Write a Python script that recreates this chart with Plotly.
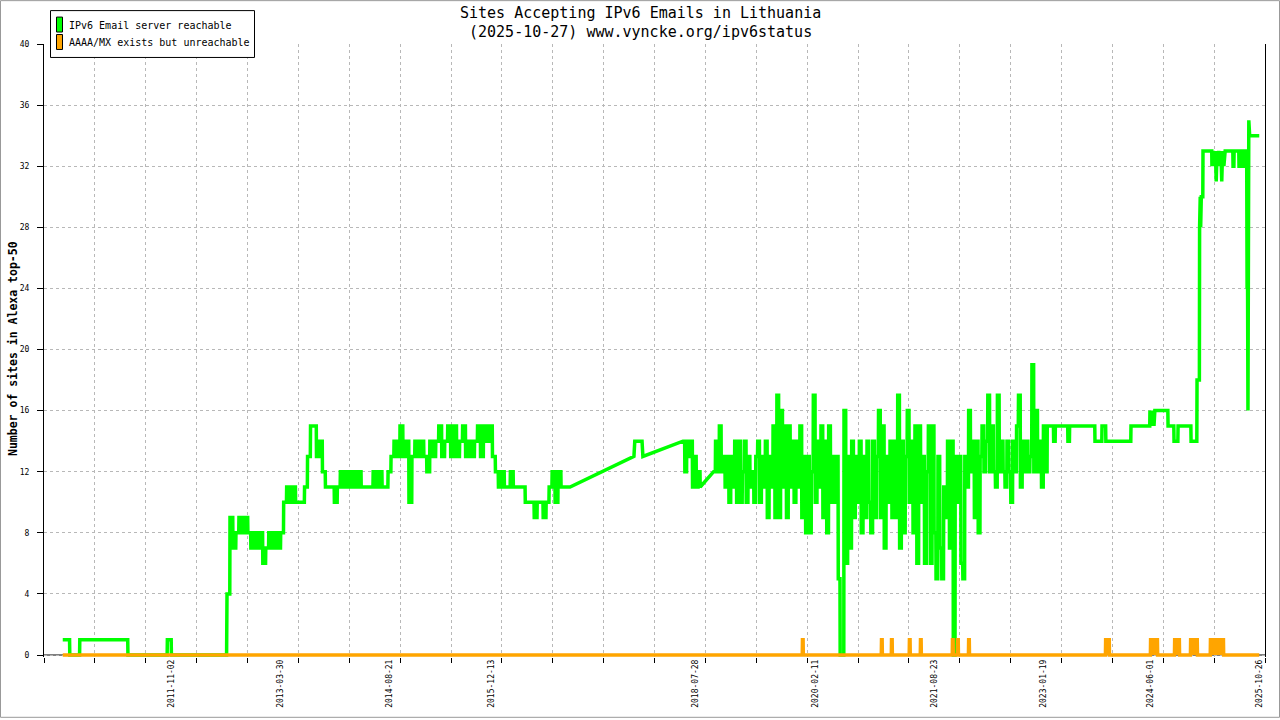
import pandas as pd
import plotly.graph_objects as go

# ---------------- text ----------------
TITLE_LINE1 = "Sites Accepting IPv6 Emails in Lithuania"
TITLE_LINE2 = "(2025-10-27) www.vyncke.org/ipv6status"
Y_TITLE = "Number of sites in Alexa top-50"
SERIES_NAMES = ["IPv6 Email server reachable", "AAAA/MX exists but unreachable"]

# ---------------- axes ----------------
X_LABEL_DATES = ["2011-11-02", "2013-03-30", "2014-08-21", "2015-12-13", "2018-07-28",
                 "2020-02-11", "2021-08-23", "2023-01-19", "2024-06-01", "2025-10-26"]
Y_TICKS = [0, 4, 8, 12, 16, 20, 24, 28, 32, 36, 40]
X_RANGE = ["2010-03-16", "2025-11-23"]

# ---------------- green series: IPv6 email server reachable ----------------
GREEN_EARLY_DATES = ["2010-06-12", "2010-07-14", "2010-07-15", "2010-08-30", "2010-08-31",
                     "2011-04-13", "2011-04-14", "2011-10-15", "2011-10-16", "2011-11-03",
                     "2011-11-04", "2012-07-20"]
GREEN_EARLY_VALS = [1, 1, 0, 0, 1, 1, 0, 0, 1, 1, 0, 0]

GREEN_MID_START = "2012-07-22"
GREEN_MID_STEP_DAYS = 14
GREEN_MID_VALS = [4, 9, 7, 8, 9, 8, 9, 8, 7, 8,
                  7, 8, 6, 7, 8, 7, 8, 7, 8, 10,
                  11, 10, 11, 10, 10, 10, 11, 13, 15, 15,
                  13, 14, 12, 11, 11, 11, 10, 11, 12, 11,
                  12, 11, 12, 11, 12, 11, 11, 11, 11, 12,
                  11, 12, 11, 11, 12, 13, 14, 13, 15, 13,
                  14, 10, 13, 14, 13, 14, 13, 12, 14, 13,
                  14, 15, 13, 14, 15, 13, 15, 13, 14, 15,
                  13, 14, 13, 14, 15, 13, 15, 14, 15, 13,
                  12, 11, 12, 11, 11, 12, 11, 11, 11, 11,
                  10, 10, 10, 9, 10, 10, 9, 10, 11, 12,
                  10, 12, 11, 11, 11, 11]

GREEN_2017_DATES = ["2017-10-14", "2017-10-18", "2017-11-21", "2017-11-25"]
GREEN_2017_VALS = [13, 14, 14, 13]

GREEN_DENSE_START = "2018-06-01"
GREEN_DENSE_STEP_DAYS = 9
GREEN_DENSE_VALS = [14, 12, 14, 13, 14, 11, 13, 11, 12, 11,
                    None, None, None, None, None, None, 12, 14, 12, 15,
                    12, 13, 11, 13, 10, 13, 11, 14, 10, 14,
                    10, 12, 14, 10, 13, 11, 12, 10, 13, 14,
                    10, 13, 11, 14, 9, 13, 11, 15, 9, 17,
                    9, 16, 11, 15, 9, 15, 11, 14, 10, 14,
                    11, 15, 9, 13, 8, 13, 8, 12, 17, 10,
                    14, 11, 15, 9, 14, 8, 15, 10, 13, 10,
                    13, 5, 0, 0, 16, 6, 13, 7, 14, 9,
                    13, 10, 14, 8, 13, 9, 14, 10, 8, 14,
                    9, 13, 16, 9, 15, 7, 13, 10, 14, 9,
                    14, 9, 17, 7, 14, 8, 13, 16, 10, 14,
                    8, 15, 6, 15, 10, 13, 6, 12, 15, 6,
                    15, 8, 5, 13, 7, 5, 11, 9, 14, 7,
                    14, 0, 13, 10, 13, 6, 5, 13, 11, 16,
                    12, 14, 9, 14, 8, 13, 15, 12, 14, 17,
                    12, 15, 12, 11, 17, 12, 14, 12, 11, 14,
                    12, 10, 14, 12, 15, 17, 11, 14, 12, 14,
                    12, 13, 19, 12, 16, 12, 14, 11, 15, 12,
                    15]

GREEN_LATE_DATES = ["2023-03-06", "2023-03-07", "2023-03-14", "2023-03-15",
                    "2023-05-12", "2023-05-13", "2023-05-20", "2023-05-21",
                    "2023-09-16", "2023-09-17", "2023-10-19", "2023-10-20",
                    "2023-11-06", "2023-11-07", "2024-03-03", "2024-03-04",
                    "2024-05-31", "2024-06-01", "2024-06-05", "2024-06-08", "2024-06-12",
                    "2024-06-16", "2024-06-20", "2024-06-24",
                    "2024-08-24", "2024-08-25", "2024-09-21", "2024-09-22", "2024-10-10", "2024-10-11",
                    "2024-12-10", "2024-12-11", "2025-01-07", "2025-01-08", "2025-01-19", "2025-01-20",
                    "2025-01-23", "2025-01-25", "2025-01-28", "2025-02-04", "2025-02-05",
                    "2025-03-18", "2025-03-19", "2025-03-25", "2025-03-30", "2025-04-04", "2025-04-08",
                    "2025-04-12", "2025-04-16", "2025-04-20", "2025-04-25", "2025-04-30", "2025-05-04",
                    "2025-05-08", "2025-05-14", "2025-05-20",
                    "2025-06-25", "2025-06-26", "2025-06-30", "2025-07-01", "2025-07-23", "2025-07-24",
                    "2025-07-28", "2025-07-29", "2025-08-11", "2025-08-12", "2025-08-16", "2025-08-17",
                    "2025-08-29", "2025-08-31", "2025-09-02", "2025-09-04", "2025-09-08", "2025-09-12",
                    "2025-10-27"]
GREEN_LATE_VALS = [15, 14, 14, 15,
                   15, 14, 14, 15,
                   15, 14, 14, 15,
                   15, 14, 14, 15,
                   15, 16, 15, 16, 15,
                   16, 15, 16,
                   16, 15, 15, 14, 14, 15,
                   15, 14, 14, 18, 18, 28,
                   30, 28, 30, 30, 33,
                   33, 32, 33, 32, 33, 31,
                   33, 32, 33, 32, 33, 31,
                   33, 32, 33,
                   33, 32, 32, 33, 33, 32,
                   32, 33, 33, 32, 32, 33,
                   33, 24, 25, 16, 35, 34,
                   34]

# ---------------- orange series: AAAA/MX exists but unreachable ----------------
ORANGE_START = "2010-06-12"
ORANGE_END = "2025-10-27"
ORANGE_ON = ["2019-12-14", "2020-12-19", "2021-02-04", "2021-04-29", "2021-06-20",
             "2021-11-17", "2021-12-11", "2022-02-01", "2023-11-06", "2024-06-04",
             "2024-09-25", "2024-12-09", "2025-03-12"]
ORANGE_OFF = ["2019-12-17", "2020-12-22", "2021-02-07", "2021-05-02", "2021-06-23",
              "2021-11-20", "2021-12-14", "2022-02-04", "2023-11-23", "2024-07-06",
              "2024-10-17", "2025-01-09", "2025-05-12"]

one_day = pd.Timedelta(days=1)


def as_steps(dates, vals):
    """Render sampled values as a step function (value held until the next sample)."""
    xs, ys = [], []
    n = len(vals)
    for i in range(n):
        if vals[i] is None:
            continue
        xs.append(dates[i])
        ys.append(vals[i])
        if i + 1 < n and vals[i + 1] is not None:
            xs.append(dates[i + 1] - one_day)
            ys.append(vals[i])
    return xs, ys


# ---------------- build series ----------------
g_x, g_y = [], []
g_x += [pd.Timestamp(d) for d in GREEN_EARLY_DATES]
g_y += GREEN_EARLY_VALS
mid_dates = list(pd.date_range(GREEN_MID_START, periods=len(GREEN_MID_VALS), freq=f"{GREEN_MID_STEP_DAYS}D"))
sx, sy = as_steps(mid_dates, GREEN_MID_VALS)
g_x += sx
g_y += sy
g_x += [pd.Timestamp(d) for d in GREEN_2017_DATES]
g_y += GREEN_2017_VALS
dense_dates = list(pd.date_range(GREEN_DENSE_START, periods=len(GREEN_DENSE_VALS), freq=f"{GREEN_DENSE_STEP_DAYS}D"))
sx, sy = as_steps(dense_dates, GREEN_DENSE_VALS)
g_x += sx
g_y += sy
g_x += [pd.Timestamp(d) for d in GREEN_LATE_DATES]
g_y += GREEN_LATE_VALS

o_x, o_y = [pd.Timestamp(ORANGE_START)], [0]
for on, off in zip(ORANGE_ON, ORANGE_OFF):
    on, off = pd.Timestamp(on), pd.Timestamp(off)
    o_x += [on - one_day, on, off, off + one_day]
    o_y += [0, 1, 1, 0]
o_x.append(pd.Timestamp(ORANGE_END))
o_y.append(0)

# ---------------- layout geometry (pixels) ----------------
W, H = 1280, 720
PL, PR, PT, PB = 44, 1265, 44, 659
Y_LO = -0.13


def px(x):
    return (x - PL) / (PR - PL)


def py(y):
    return (PB - y) / (PB - PT)


FONT = "DejaVu Sans Mono"
GREEN = "#00ff00"
ORANGE = "#ffa500"
GRID = "#b8b8b8"

fig = go.Figure()
fig.add_trace(go.Scatter(x=g_x, y=g_y, mode="lines", name=SERIES_NAMES[0],
                         line=dict(color=GREEN, width=3.5), showlegend=False, hoverinfo="skip"))
fig.add_trace(go.Scatter(x=o_x, y=o_y, mode="lines", name=SERIES_NAMES[1],
                         line=dict(color=ORANGE, width=3.5), fill="tozeroy", fillcolor=ORANGE,
                         showlegend=False, hoverinfo="skip"))

grid_dates = pd.date_range(X_RANGE[0], X_RANGE[1], periods=25)
grid_vals = [d.strftime("%Y-%m-%d %H:%M:%S") for d in grid_dates]

fig.update_layout(
    width=W, height=H,
    margin=dict(l=PL, r=W - PR, t=PT, b=H - PB, pad=0),
    paper_bgcolor="white", plot_bgcolor="white",
    font=dict(family=FONT, size=8, color="black"),
    showlegend=False,
    xaxis=dict(
        type="date", range=X_RANGE,
        tickmode="array", tickvals=X_LABEL_DATES, ticktext=X_LABEL_DATES,
        tickangle=-90, ticks="", ticklen=0, showgrid=False, zeroline=False,
        showline=False, tickfont=dict(family=FONT, size=8, color="black"),
        minor=dict(tickmode="array", tickvals=grid_vals, ticks="outside", ticklen=5,
                   tickcolor="black", tickwidth=1, showgrid=True, gridcolor=GRID,
                   griddash="dot", gridwidth=1),
    ),
    yaxis=dict(
        range=[Y_LO, 40], tickmode="array", tickvals=Y_TICKS,
        ticktext=[str(t) for t in Y_TICKS],
        ticks="outside", ticklen=6, tickcolor="black", tickwidth=1,
        showline=True, linecolor="black", linewidth=1, mirror=True,
        showgrid=True, gridcolor=GRID, griddash="dot", gridwidth=1,
        zeroline=False, ticklabelstandoff=6,
        tickfont=dict(family=FONT, size=8, color="black"),
    ),
)

shapes = []
# x axis base line at value 0
shapes.append(dict(type="line", xref="paper", yref="y", x0=0, x1=1, y0=0, y1=0,
                   line=dict(color="black", width=1), layer="below"))
# outer image border
shapes.append(dict(type="rect", xref="paper", yref="paper",
                   x0=px(0.5), x1=px(W - 0.5), y0=py(H - 0.5), y1=py(0.5),
                   line=dict(color="#999999", width=1), fillcolor="rgba(0,0,0,0)"))
# legend box
shapes.append(dict(type="rect", xref="paper", yref="paper",
                   x0=px(50.5), x1=px(254.5), y0=py(57.5), y1=py(10.5),
                   line=dict(color="black", width=1), fillcolor="white"))
shapes.append(dict(type="rect", xref="paper", yref="paper",
                   x0=px(56.5), x1=px(62.5), y0=py(32), y1=py(17),
                   line=dict(color="black", width=1), fillcolor=GREEN))
shapes.append(dict(type="rect", xref="paper", yref="paper",
                   x0=px(56.5), x1=px(62.5), y0=py(49.5), y1=py(34.5),
                   line=dict(color="black", width=1), fillcolor=ORANGE))
fig.update_layout(shapes=shapes)

annotations = [
    dict(text=TITLE_LINE1, x=px(640), y=py(13), xref="paper", yref="paper",
         xanchor="center", yanchor="middle", showarrow=False,
         font=dict(family=FONT, size=15, color="black")),
    dict(text=TITLE_LINE2, x=px(640), y=py(32), xref="paper", yref="paper",
         xanchor="center", yanchor="middle", showarrow=False,
         font=dict(family=FONT, size=15, color="black")),
    dict(text="<b>" + Y_TITLE + "</b>", x=px(13), y=py(350), xref="paper", yref="paper",
         xanchor="center", yanchor="middle", textangle=-90, showarrow=False,
         font=dict(family=FONT, size=11.5, color="black")),
    dict(text=SERIES_NAMES[0], x=px(67), y=py(25), xref="paper", yref="paper",
         xanchor="left", yanchor="middle", showarrow=False,
         font=dict(family=FONT, size=10, color="black")),
    dict(text=SERIES_NAMES[1], x=px(67), y=py(42.5), xref="paper", yref="paper",
         xanchor="left", yanchor="middle", showarrow=False,
         font=dict(family=FONT, size=10, color="black")),
]
fig.update_layout(annotations=annotations)

fig.write_html("out.html", config={"displayModeBar": False},
               post_script="document.body.style.margin='0';document.body.style.overflow='hidden';")
